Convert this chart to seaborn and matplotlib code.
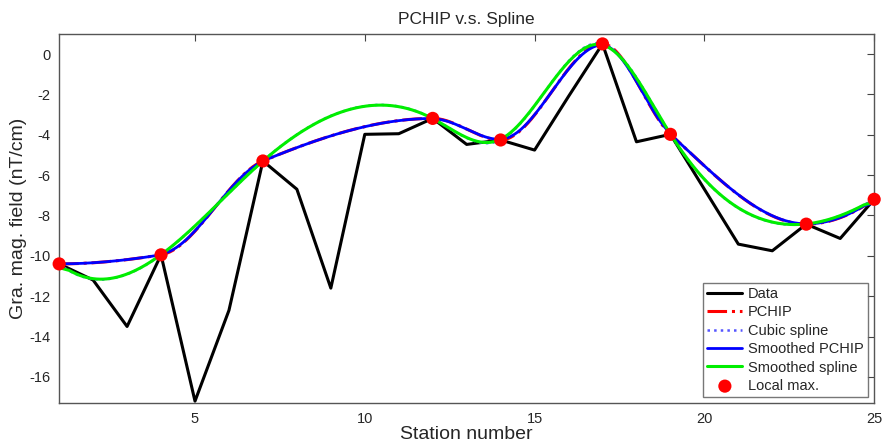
import matplotlib
matplotlib.use('Agg')
import matplotlib.pyplot as plt
import seaborn as sns
import numpy as np

# data --------------------------------
station = np.arange(1, 26)
field = [-10.4, -11.2, -13.5, -9.95, -17.2, -12.7, -5.3, -6.7, -11.6, -3.98,
         -3.95, -3.19, -4.48, -4.26, -4.76, -2.1, 0.5, -4.35, -3.98, -6.7,
         -9.42, -9.75, -8.43, -9.14, -7.2]
max_station = [1, 4, 7, 12, 14, 17, 19, 23, 25]

legend_labels = ['Data', 'PCHIP', 'Cubic spline', 'Smoothed PCHIP',
                 'Smoothed spline', 'Local max.']


def pchip(x, y, xq):
    # shape preserving cubic (fritsch-carlson, like matlab pchip)
    x = np.asarray(x, float)
    y = np.asarray(y, float)
    h = np.diff(x)
    d = np.diff(y) / h
    n = len(x)
    m = np.zeros(n)
    for k in range(1, n - 1):
        if d[k - 1] * d[k] > 0:
            w1 = 2 * h[k] + h[k - 1]
            w2 = h[k] + 2 * h[k - 1]
            m[k] = (w1 + w2) / (w1 / d[k - 1] + w2 / d[k])
    for a, b, c, hs in [(0, 0, 1, (h[0], h[1])), (n - 1, n - 2, n - 3, (h[-1], h[-2]))]:
        h0, h1 = hs
        d0, d1 = d[b], d[c]
        s = ((2 * h0 + h1) * d0 - h0 * d1) / (h0 + h1)
        if np.sign(s) != np.sign(d0):
            s = 0
        elif np.sign(d0) != np.sign(d1) and abs(s) > abs(3 * d0):
            s = 3 * d0
        m[a] = s
    i = np.clip(np.searchsorted(x, xq) - 1, 0, n - 2)
    t = (xq - x[i]) / h[i]
    h00 = 2 * t**3 - 3 * t**2 + 1
    h10 = t**3 - 2 * t**2 + t
    h01 = -2 * t**3 + 3 * t**2
    h11 = t**3 - t**2
    return h00 * y[i] + h10 * h[i] * m[i] + h01 * y[i + 1] + h11 * h[i] * m[i + 1]


def spline(x, y, xq):
    # not-a-knot cubic spline
    x = np.asarray(x, float)
    y = np.asarray(y, float)
    n = len(x)
    h = np.diff(x)
    A = np.zeros((n, n))
    r = np.zeros(n)
    A[0, 0], A[0, 1], A[0, 2] = -1 / h[0], 1 / h[0] + 1 / h[1], -1 / h[1]
    A[-1, -3], A[-1, -2], A[-1, -1] = -1 / h[-2], 1 / h[-2] + 1 / h[-1], -1 / h[-1]
    for k in range(1, n - 1):
        A[k, k - 1] = h[k - 1]
        A[k, k] = 2 * (h[k - 1] + h[k])
        A[k, k + 1] = h[k]
        r[k] = 6 * ((y[k + 1] - y[k]) / h[k] - (y[k] - y[k - 1]) / h[k - 1])
    M = np.linalg.solve(A, r)
    i = np.clip(np.searchsorted(x, xq) - 1, 0, n - 2)
    hi = h[i]
    a = x[i + 1] - xq
    b = xq - x[i]
    return (M[i] * a**3 / (6 * hi) + M[i + 1] * b**3 / (6 * hi)
            + (y[i] / hi - M[i] * hi / 6) * a + (y[i + 1] / hi - M[i + 1] * hi / 6) * b)


def smooth(v, span):
    k = np.ones(span)
    return np.convolve(v, k, mode='same') / np.convolve(np.ones_like(v), k, mode='same')


field = np.array(field)
max_val = field[np.array(max_station) - 1]
xf = np.linspace(1, 25, 481)
y_pchip = pchip(max_station, max_val, xf)
y_spline = spline(max_station, max_val, xf)
y_spchip = smooth(y_pchip, 13)
y_sspline = smooth(y_spline, 13)

sns.set_style('white')
plt.rcParams['font.family'] = ['Liberation Sans', 'DejaVu Sans']
plt.rcParams['axes.unicode_minus'] = False

fig = plt.figure(figsize=(8.83, 4.45), dpi=100)
ax = fig.add_axes([0.067, 0.094, 0.923, 0.83])

sns.lineplot(x=station, y=field, color='black', lw=2.2, ax=ax, label=legend_labels[0])
sns.lineplot(x=xf, y=y_pchip, color='red', lw=2.2, linestyle='-.', ax=ax, label=legend_labels[1])
sns.lineplot(x=xf, y=y_spline, color='#5555ff', lw=1.8, linestyle=':', ax=ax, label=legend_labels[2])
sns.lineplot(x=xf, y=y_spchip, color='#0000ff', lw=2, ax=ax, label=legend_labels[3])
sns.lineplot(x=xf, y=y_sspline, color='#00ee00', lw=2.2, ax=ax, label=legend_labels[4])
sns.scatterplot(x=max_station, y=max_val, color='red', s=90, edgecolor='none',
                zorder=5, ax=ax, label=legend_labels[5], clip_on=False)

ax.set_xlim(1, 25)
ax.set_ylim(-17.3, 1)
ax.set_xticks([5, 10, 15, 20, 25])
ax.set_yticks(np.arange(-16, 1, 2))
ax.tick_params(direction='in', top=True, right=True, length=5, labelsize=10.5,
               color='#444444', pad=6)
for s in ax.spines.values():
    s.set_color('#555555')
    s.set_linewidth(1)

ax.set_title('PCHIP v.s. Spline', fontsize=12.5, pad=7)
ax.set_xlabel('Station number', fontsize=14, labelpad=0)
ax.set_ylabel('Gra. mag. field (nT/cm)', fontsize=14, labelpad=2)

leg = ax.legend(loc='lower right', fontsize=10.5, frameon=True, fancybox=False,
                borderaxespad=0.4, handlelength=2.4, labelspacing=0.3,
                borderpad=0.3, handletextpad=0.4)
leg.get_frame().set_edgecolor('#555555')
leg.get_frame().set_linewidth(1)

fig.savefig('out.png', dpi=100)
